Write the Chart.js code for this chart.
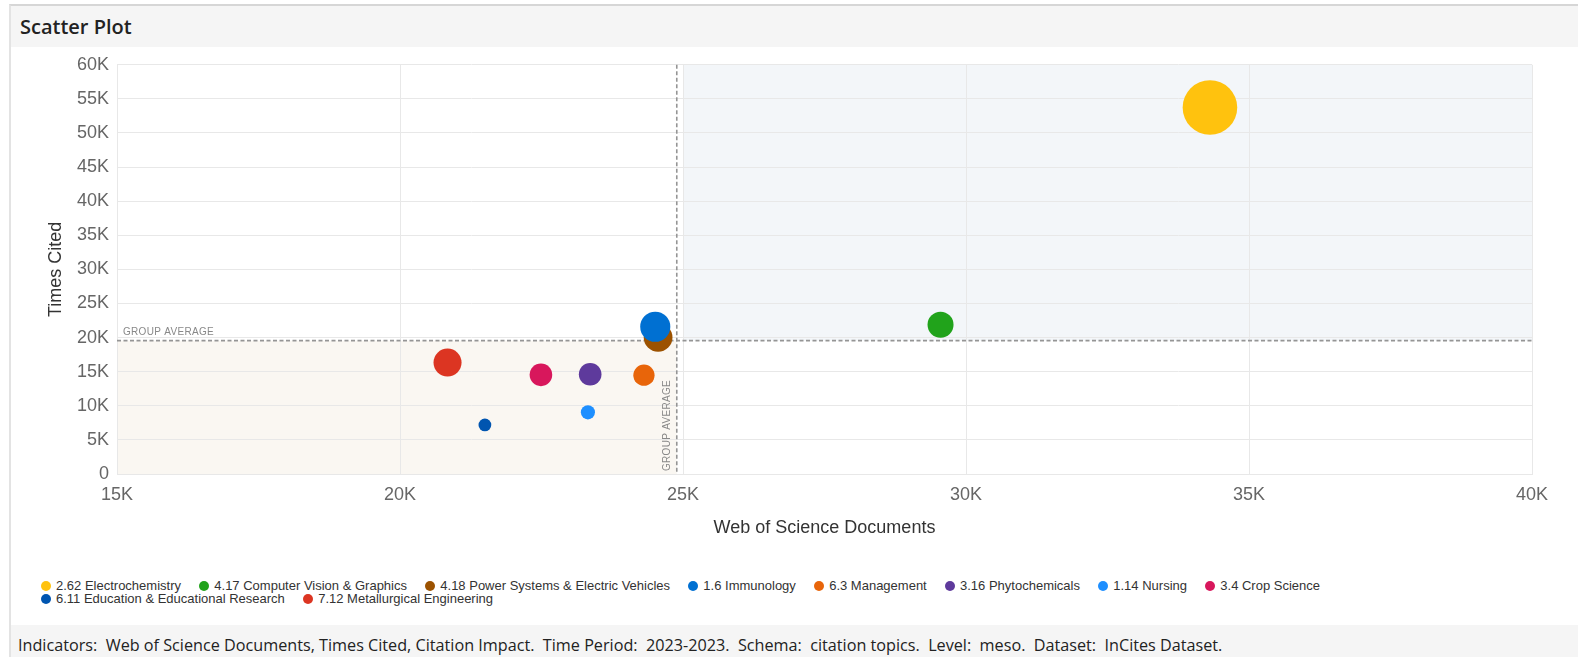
<!DOCTYPE html>
<html><head><meta charset="utf-8">
<script src="https://cdn.jsdelivr.net/npm/chart.js@4.4.1/dist/chart.umd.min.js"></script>
<style>
html,body{margin:0;padding:0;background:#fff;width:1578px;height:657px;overflow:hidden;font-family:"Liberation Sans",Arial,sans-serif;}
#panel{position:absolute;left:9px;top:4px;right:0;bottom:0;border-left:2px solid #e3e3e3;border-top:2px solid #d6d6d6;}
#titlebar{position:absolute;left:11px;top:6px;right:0;height:41px;background:#f5f5f5;}
#title{position:absolute;left:20px;top:6px;height:41px;line-height:41px;font-family:"Open Sans",sans-serif;font-weight:600;font-size:20px;color:#222;}
#chartbox{position:absolute;left:0;top:46px;width:1578px;height:500px;}
#legend{position:absolute;left:41px;top:579px;width:1400px;display:flex;flex-wrap:wrap;font-family:"Liberation Sans",Arial,sans-serif;font-size:13px;line-height:13px;color:#333;}
#legend .it{display:flex;align-items:center;margin-right:18.3px;height:13px;white-space:nowrap;}
#legend .dot{width:10px;height:10px;border-radius:50%;margin-right:5px;flex:none;}
#footer{position:absolute;left:11px;top:625px;right:0;height:32px;background:#f5f5f5;}
#foot{position:absolute;left:18px;top:629px;height:32px;line-height:32px;font-family:"Open Sans",sans-serif;font-size:16.2px;color:#222;white-space:pre;}
</style>
</head><body>
<div id="panel"></div>
<div id="titlebar"></div>
<div id="title">Scatter Plot</div>
<div id="chartbox"><canvas id="c"></canvas></div>
<div id="legend"></div>
<div id="footer"></div>
<div id="foot">Indicators:  Web of Science Documents, Times Cited, Citation Impact.  Time Period:  2023-2023.  Schema:  citation topics.  Level:  meso.  Dataset:  InCites Dataset.</div>
<script>
// ---- data ----
const categories = ["2.62 Electrochemistry","4.17 Computer Vision & Graphics","4.18 Power Systems & Electric Vehicles","1.6 Immunology","6.3 Management","3.16 Phytochemicals","1.14 Nursing","3.4 Crop Science","6.11 Education & Educational Research","7.12 Metallurgical Engineering"];
const documents = [34310, 29550, 24560, 24510, 24310, 23360, 23320, 22490, 21500, 20840];
const timesCited = [53730, 21880, 20030, 21590, 14490, 14630, 9040, 14540, 7190, 16340];
const citationImpact = [1.57, 0.73, 0.81, 0.85, 0.59, 0.63, 0.38, 0.63, 0.34, 0.79];
const groupAvgDocuments = 24890;
const groupAvgCited = 19550;
const xTicks = [15000, 20000, 25000, 30000, 35000, 40000];
const yTicks = [0, 5000, 10000, 15000, 20000, 25000, 30000, 35000, 40000, 45000, 50000, 55000, 60000];

// ---- styles ----
const colors = ["#ffc20e","#21a31b","#9c5200","#0070d2","#e8650a","#5e3a9c","#1e8fff","#d8175c","#0055b0","#dc3522"];
const drawOrder = [1,1,1,0,1,1,1,1,1,1];
const upperShadeStart = 25000;
const sizeOf = v => 0.6 + 17 * v;
const fmtK = v => v === 0 ? '0' : (v / 1000) + 'K';

const datasets = categories.map((name, i) => ({
  label: name,
  data: [{x: documents[i], y: timesCited[i], r: sizeOf(citationImpact[i])}],
  backgroundColor: colors[i],
  borderColor: colors[i],
  borderWidth: 0,
  hoverRadius: 0,
  order: drawOrder[i]
}));

const quadrants = {
  id: 'quadrants',
  beforeDraw(chart) {
    const {ctx, chartArea: a, scales: {x, y}} = chart;
    const ax = x.getPixelForValue(groupAvgDocuments);
    const ay = y.getPixelForValue(groupAvgCited);
    const bx = x.getPixelForValue(upperShadeStart);
    ctx.save();
    ctx.fillStyle = '#faf7f2';
    ctx.fillRect(a.left, ay, ax - a.left, a.bottom - ay);
    ctx.fillStyle = '#f3f6f9';
    ctx.fillRect(bx, a.top, a.right - bx, ay - a.top);
    ctx.restore();
  },
  beforeDatasetsDraw(chart) {
    const {ctx, chartArea: a, scales: {x, y}} = chart;
    const ax = x.getPixelForValue(groupAvgDocuments);
    const ay = y.getPixelForValue(groupAvgCited);
    ctx.save();
    ctx.strokeStyle = '#959595';
    ctx.lineWidth = 1.6;
    ctx.setLineDash([4, 2.5]);
    ctx.beginPath();
    ctx.moveTo(a.left, ay); ctx.lineTo(a.right, ay);
    ctx.moveTo(ax, a.top); ctx.lineTo(ax, a.bottom);
    ctx.stroke();
    ctx.setLineDash([]);
    ctx.fillStyle = '#888';
    ctx.font = '10px "Liberation Sans", Arial, sans-serif';
    if ('letterSpacing' in ctx) ctx.letterSpacing = '0.3px';
    ctx.textBaseline = 'alphabetic';
    ctx.textAlign = 'left';
    ctx.fillText('GROUP AVERAGE', a.left + 6, ay - 5.5);
    ctx.translate(ax - 7, a.bottom - 3);
    ctx.rotate(-Math.PI / 2);
    ctx.fillText('GROUP AVERAGE', 0, 0);
    ctx.restore();
  }
};

new Chart(document.getElementById('c'), {
  type: 'bubble',
  data: {datasets},
  plugins: [quadrants],
  options: {
    responsive: true,
    maintainAspectRatio: false,
    animation: false,
    events: [],
    layout: {autoPadding: false, padding: {top: 16, right: 46, left: 0, bottom: 0}},
    plugins: {legend: {display: false}, tooltip: {enabled: false}},
    scales: {
      x: {
        type: 'linear', min: xTicks[0], max: xTicks[xTicks.length - 1],
        afterBuildTicks: s => { s.ticks = xTicks.map(v => ({value: v})); },
        afterFit: s => { s.height = 72; },
        ticks: {callback: fmtK, font: {size: 18}, color: '#666', padding: 10, maxRotation: 0},
        grid: {color: '#e8e8e8', drawTicks: false},
        border: {color: '#e8e8e8'},
        title: {display: true, text: 'Web of Science Documents', font: {size: 18}, color: '#333', padding: {top: 0, bottom: 7}}
      },
      y: {
        type: 'linear', min: yTicks[0], max: yTicks[yTicks.length - 1],
        afterBuildTicks: s => { s.ticks = yTicks.map(v => ({value: v})); },
        afterFit: s => { s.width = 117; },
        ticks: {callback: fmtK, font: {size: 18}, color: '#666', padding: 8},
        grid: {color: '#e8e8e8', drawTicks: false},
        border: {color: '#e8e8e8'},
        title: {display: true, text: 'Times Cited', font: {size: 18}, color: '#333', padding: {top: 45, bottom: 0}}
      }
    }
  }
});

// HTML legend from the same arrays
const lg = document.getElementById('legend');
categories.forEach((name, i) => {
  const it = document.createElement('div'); it.className = 'it';
  const d = document.createElement('span'); d.className = 'dot'; d.style.background = colors[i];
  const t = document.createElement('span'); t.textContent = name;
  it.appendChild(d); it.appendChild(t); lg.appendChild(it);
});
</script>
</body></html>
